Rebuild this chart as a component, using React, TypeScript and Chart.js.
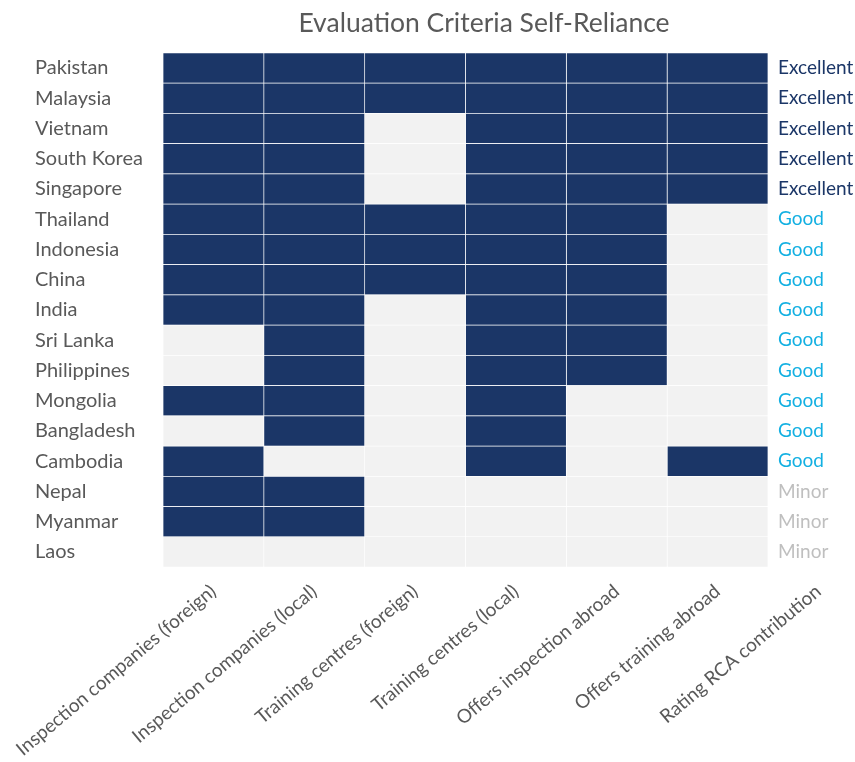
import React, { useEffect, useRef } from 'react';
import { Chart, registerables } from 'chart.js';

Chart.register(...registerables);

const countries = [
  'Pakistan', 'Malaysia', 'Vietnam', 'South Korea', 'Singapore', 'Thailand', 'Indonesia',
  'China', 'India', 'Sri Lanka', 'Philippines', 'Mongolia', 'Bangladesh', 'Cambodia',
  'Nepal', 'Myanmar', 'Laos',
];
const criteria = [
  'Inspection companies (foreign)',
  'Inspection companies (local)',
  'Training centres (foreign)',
  'Training centres (local)',
  'Offers inspection abroad',
  'Offers training abroad',
];
const ratingHeader = 'Rating RCA contribution';
const ratings = [
  'Excellent', 'Excellent', 'Excellent', 'Excellent', 'Excellent', 'Good', 'Good', 'Good',
  'Good', 'Good', 'Good', 'Good', 'Good', 'Good', 'Minor', 'Minor', 'Minor',
];
const inspectionForeign = [1, 1, 1, 1, 1, 1, 1, 1, 1, 0, 0, 1, 0, 1, 1, 1, 0];
const inspectionLocal = [1, 1, 1, 1, 1, 1, 1, 1, 1, 1, 1, 1, 1, 0, 1, 1, 0];
const trainingForeign = [1, 1, 0, 0, 0, 1, 1, 1, 0, 0, 0, 0, 0, 0, 0, 0, 0];
const trainingLocal = [1, 1, 1, 1, 1, 1, 1, 1, 1, 1, 1, 1, 1, 1, 0, 0, 0];
const offersInspection = [1, 1, 1, 1, 1, 1, 1, 1, 1, 1, 1, 0, 0, 0, 0, 0, 0];
const offersTraining = [1, 1, 1, 1, 1, 0, 0, 0, 0, 0, 0, 0, 0, 1, 0, 0, 0];
const columns = [
  inspectionForeign, inspectionLocal, trainingForeign, trainingLocal, offersInspection, offersTraining,
];

const NAVY = '#1b3667';
const EMPTY = '#f2f2f2';
const TEXT = '#595959';
const ratingColors: Record<string, string> = {
  Excellent: '#1b3667',
  Good: '#13b0e2',
  Minor: '#bfbfbf',
};
const FONT = 'Lato, "Open Sans", sans-serif';

export default function App() {
  const ref = useRef<HTMLCanvasElement | null>(null);

  useEffect(() => {
    if (!ref.current) return;
    const xLabels = [...criteria, ratingHeader];
    const chart = new Chart(ref.current, {
      type: 'bar',
      data: {
        labels: countries,
        datasets: columns.map((col, j) => ({
          label: criteria[j],
          data: col.map(() => 1),
          backgroundColor: col.map((v) => (v ? NAVY : EMPTY)),
          borderColor: '#ffffff',
          borderWidth: 0.7,
          borderSkipped: false,
          barPercentage: 1,
          categoryPercentage: 1,
          stack: 'grid',
        })),
      },
      options: {
        indexAxis: 'y',
        responsive: false,
        animation: false,
        layout: { padding: { left: 35, right: 0, top: 0, bottom: 0 } },
        plugins: {
          legend: { display: false },
          tooltip: { enabled: false },
          title: {
            display: true,
            text: 'Evaluation Criteria Self-Reliance',
            color: TEXT,
            font: { family: FONT, size: 26.5, weight: 'normal' },
            padding: { top: 8, bottom: 13 },
          },
        },
        scales: {
          x: {
            type: 'linear',
            stacked: true,
            min: 0,
            max: 6,
            grid: { display: false, drawTicks: false },
            border: { display: false },
            afterBuildTicks: (axis: any) => {
              axis.ticks = xLabels.map((_, i) => ({ value: i + 0.5 }));
            },
            afterFit: (axis: any) => {
              axis.height = 195;
              axis.paddingLeft = 0;
              axis.paddingRight = 0;
            },
            ticks: {
              autoSkip: false,
              minRotation: 40,
              maxRotation: 40,
              padding: 13,
              color: TEXT,
              font: { family: FONT, size: 19 },
              callback: (_v: any, i: number) => xLabels[i],
            },
          },
          y: {
            type: 'category',
            stacked: true,
            position: 'left',
            grid: { display: false, drawTicks: false },
            border: { display: false },
            afterFit: (axis: any) => {
              axis.width = 128;
            },
            ticks: {
              crossAlign: 'far',
              color: TEXT,
              font: { family: FONT, size: 20 },
            },
          },
          y2: {
            type: 'category',
            position: 'right',
            labels: ratings,
            offset: true,
            grid: { display: false, drawTicks: false },
            border: { display: false },
            afterFit: (axis: any) => {
              axis.width = 87;
            },
            ticks: {
              padding: 10,
              font: { family: FONT, size: 19 },
              color: (ctx: any) => ratingColors[ratings[ctx.index]] || TEXT,
            },
          },
        },
      },
      plugins: [
        {
          id: 'titleShift',
          afterLayout: (c: any) => {
            const t = c.titleBlock;
            if (t) {
              t.left = 113;
              t.right = 855;
            }
          },
        },
      ],
    } as any);
    return () => chart.destroy();
  }, []);

  return (
    <div style={{ position: 'absolute', left: 0, top: 0, width: 855, height: 762 }}>
      <canvas ref={ref} width={855} height={762} />
    </div>
  );
}
